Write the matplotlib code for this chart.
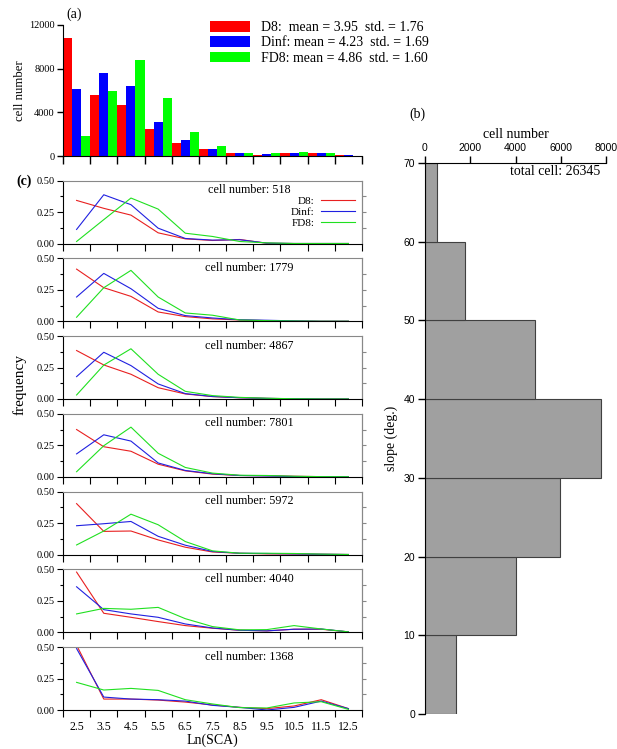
import matplotlib
matplotlib.use("Agg")
import matplotlib.pyplot as plt
import numpy as np
from matplotlib.ticker import MultipleLocator, FixedLocator

plt.rcParams['font.family'] = ['Liberation Serif', 'DejaVu Serif']

W, H = 617, 749

# ---------------- data ----------------
x_centers = [2.5, 3.5, 4.5, 5.5, 6.5, 7.5, 8.5, 9.5, 10.5, 11.5, 12.5]
x_labels = ["2.5", "3.5", "4.5", "5.5", "6.5", "7.5", "8.5", "9.5", "10.5", "11.5", "12.5"]
methods = ["D8", "Dinf", "FD8"]
bar_colors = ["#ff0000", "#0000ff", "#00ff00"]
line_colors = ["#e82020", "#2020e0", "#20e020"]
legend_a = ["D8:  mean = 3.95  std. = 1.76",
            "Dinf: mean = 4.23  std. = 1.69",
            "FD8: mean = 4.86  std. = 1.60"]

count_D8 = [10800, 5570, 4660, 2440, 1220, 650, 300, 120, 250, 250, 50]
count_Dinf = [6150, 7610, 6400, 3110, 1460, 600, 300, 150, 250, 250, 50]
count_FD8 = [1860, 5970, 8830, 5330, 2220, 900, 300, 300, 400, 230, 30]

slope_bins = [0, 10, 20, 30, 40, 50, 60]
slope_counts = [1368, 4040, 5972, 7801, 4867, 1779, 518]
total_cell = 26345

# frequency curves per slope class (top panel = 60-70 deg, bottom = 0-10 deg)
panel_cells = [518, 1779, 4867, 7801, 5972, 4040, 1368]
freq_D8 = [
    [0.343, 0.280, 0.226, 0.085, 0.037, 0.024, 0.032, 0.002, 0.0, 0.0, 0.0],
    [0.415, 0.267, 0.198, 0.074, 0.037, 0.019, 0.010, 0.005, 0.002, 0.0, 0.0],
    [0.386, 0.271, 0.197, 0.090, 0.040, 0.019, 0.010, 0.005, 0.002, 0.0, 0.0],
    [0.376, 0.239, 0.203, 0.100, 0.047, 0.021, 0.010, 0.008, 0.004, 0.001, 0.0],
    [0.405, 0.184, 0.187, 0.116, 0.058, 0.020, 0.010, 0.005, 0.004, 0.002, 0.0],
    [0.479, 0.151, 0.119, 0.085, 0.053, 0.032, 0.016, 0.011, 0.024, 0.024, 0.003],
    [0.516, 0.087, 0.087, 0.079, 0.063, 0.040, 0.021, 0.011, 0.032, 0.082, 0.011],
]
freq_Dinf = [
    [0.112, 0.388, 0.309, 0.122, 0.040, 0.027, 0.030, 0.003, 0.0, 0.0, 0.0],
    [0.193, 0.381, 0.259, 0.103, 0.045, 0.026, 0.012, 0.008, 0.003, 0.0, 0.0],
    [0.178, 0.372, 0.266, 0.120, 0.043, 0.020, 0.010, 0.005, 0.002, 0.0, 0.0],
    [0.182, 0.334, 0.284, 0.110, 0.050, 0.024, 0.010, 0.006, 0.002, 0.001, 0.0],
    [0.229, 0.245, 0.263, 0.145, 0.074, 0.024, 0.010, 0.008, 0.005, 0.002, 0.0],
    [0.362, 0.180, 0.146, 0.119, 0.066, 0.034, 0.016, 0.011, 0.024, 0.026, 0.003],
    [0.489, 0.103, 0.087, 0.082, 0.071, 0.037, 0.021, 0.000, 0.021, 0.071, 0.011],
]
freq_FD8 = [
    [0.016, 0.190, 0.362, 0.274, 0.082, 0.056, 0.016, 0.005, 0.0, 0.0, 0.0],
    [0.032, 0.267, 0.405, 0.193, 0.066, 0.048, 0.010, 0.005, 0.002, 0.0, 0.0],
    [0.032, 0.270, 0.400, 0.197, 0.061, 0.027, 0.013, 0.006, 0.002, 0.0, 0.0],
    [0.040, 0.247, 0.395, 0.187, 0.074, 0.029, 0.012, 0.010, 0.004, 0.001, 0.0],
    [0.076, 0.187, 0.321, 0.237, 0.103, 0.029, 0.010, 0.010, 0.008, 0.003, 0.0],
    [0.146, 0.190, 0.183, 0.198, 0.108, 0.045, 0.019, 0.021, 0.053, 0.026, 0.003],
    [0.220, 0.159, 0.172, 0.156, 0.082, 0.048, 0.019, 0.016, 0.056, 0.066, 0.005],
]

# ---------------- figure ----------------
fig = plt.figure(figsize=(W / 100, H / 100), dpi=100)


def rect(l, t, r, b):
    return [l / W, 1 - b / H, (r - l) / W, (b - t) / H]


SANS = ['Liberation Sans', 'DejaVu Sans']

# ---- panel (a) ----
axa = fig.add_axes(rect(63, 25, 362, 156))
counts = [count_D8, count_Dinf, count_FD8]
bw = 1 / 3
xc = np.array(x_centers)
handles = []
for i, (c, col) in enumerate(zip(counts, bar_colors)):
    h = axa.bar(xc - 0.5 + i * bw, c, width=bw, align='edge', color=col,
                edgecolor='none', label=legend_a[i])
    handles.append(h)
axa.set_xlim(2, 13)
axa.set_ylim(0, 12000)
axa.xaxis.set_major_locator(FixedLocator(np.arange(2, 14)))
axa.set_xticklabels([])
axa.set_yticks([0, 4000, 8000, 12000])
axa.tick_params(axis='x', length=6, width=1, direction='out')
axa.tick_params(axis='y', length=4, width=1, direction='out', labelsize=7.5, pad=2)
for s in ['top', 'right']:
    axa.spines[s].set_visible(False)
axa.set_ylabel("cell number", fontsize=9.2, labelpad=2)
leg = fig.legend(handles=handles, loc='upper left',
                 bbox_to_anchor=(210 / W, 1 - 21 / H), frameon=False,
                 fontsize=10, handlelength=2.9, handleheight=0.8,
                 handletextpad=0.8, labelspacing=0.16, borderpad=0,
                 borderaxespad=0)
fig.text(74 / W, 1 - 14 / H, "(a)", fontsize=10, ha='center', va='center')

# ---- panels (c) ----
top0 = 180.7
step = 77.75
ph = 62.8
for k in range(7):
    t = top0 + k * step
    ax = fig.add_axes(rect(63, t, 362, t + ph))
    for vals, col, name in zip([freq_D8[k], freq_Dinf[k], freq_FD8[k]],
                               line_colors, methods):
        ax.plot(x_centers, vals, color=col, lw=0.8, label=name + ":")
    ax.set_xlim(2, 13)
    ax.set_ylim(0, 0.5)
    ax.set_yticks([0, 0.25, 0.5])
    ax.set_yticklabels(["0.00", "0.25", "0.50"])
    ax.yaxis.set_minor_locator(MultipleLocator(0.125))
    ax.xaxis.set_major_locator(FixedLocator(np.arange(2, 14)))
    ax.set_xticklabels([])
    ax.tick_params(axis='y', which='major', length=4, width=0.8, labelsize=7.5, pad=2)
    ax.tick_params(axis='y', which='minor', length=2.5, width=0.8)
    ax.tick_params(axis='x', which='major', length=5, width=0.8)
    for s in ['top', 'right']:
        ax.spines[s].set_color('#888888')
    sec = ax.secondary_yaxis('right')
    sec.set_yticks([0.125, 0.25, 0.375])
    sec.set_yticklabels([])
    sec.tick_params(length=3, width=0.8, color='#888888')
    sec.spines['right'].set_color('#888888')
    ax.text(0.622, 0.85, f"cell number: {panel_cells[k]}", transform=ax.transAxes,
            ha='center', va='center', fontsize=8.7)
    if k == 0:
        ax.legend(loc='upper right', bbox_to_anchor=(0.975, 0.76), frameon=False,
                  markerfirst=False, fontsize=8, handlelength=3.0,
                  handletextpad=0.6, labelspacing=0.12, borderpad=0,
                  borderaxespad=0)
    if k == 6:
        ax.set_xticks(x_centers, minor=True)
        ax.set_xticklabels(x_labels, minor=True)
        ax.tick_params(axis='x', which='minor', length=0, labelsize=8.5, pad=8)
        ax.set_xlabel("Ln(SCA)", fontsize=10, labelpad=0)

fig.text(24 / W, 1 - 181 / H, "(c)", fontsize=10, fontweight='bold',
         ha='center', va='center')
fig.text(20 / W, 1 - 384 / H, "frequency", fontsize=11, rotation=90,
         ha='center', va='center')

# ---- panel (b) ----
axb = fig.add_axes(rect(425, 163, 606, 714))
axb.barh(slope_bins, slope_counts, height=10, align='edge', color='#a0a0a0',
         edgecolor='#404040', linewidth=0.8)
axb.set_xlim(0, 8000)
axb.set_ylim(0, 70)
axb.xaxis.tick_top()
axb.xaxis.set_label_position('top')
axb.set_xticks([0, 2000, 4000, 6000, 8000])
axb.set_yticks([0, 10, 20, 30, 40, 50, 60, 70])
axb.tick_params(axis='both', length=5, width=1, labelsize=7.5, pad=2)
for lab in axb.get_xticklabels() + axb.get_yticklabels():
    lab.set_family(SANS)
for s in ['bottom', 'right']:
    axb.spines[s].set_visible(False)
axb.set_xlabel("cell number", fontsize=10, labelpad=4)
axb.set_ylabel("slope (deg.)", fontsize=10, labelpad=4)
axb.text(0.967, 0.985, f"total cell: {total_cell}", transform=axb.transAxes,
         ha='right', va='center', fontsize=10)
fig.text(417 / W, 1 - 114 / H, "(b)", fontsize=10, ha='center', va='center')

fig.savefig("out.png", dpi=100)
